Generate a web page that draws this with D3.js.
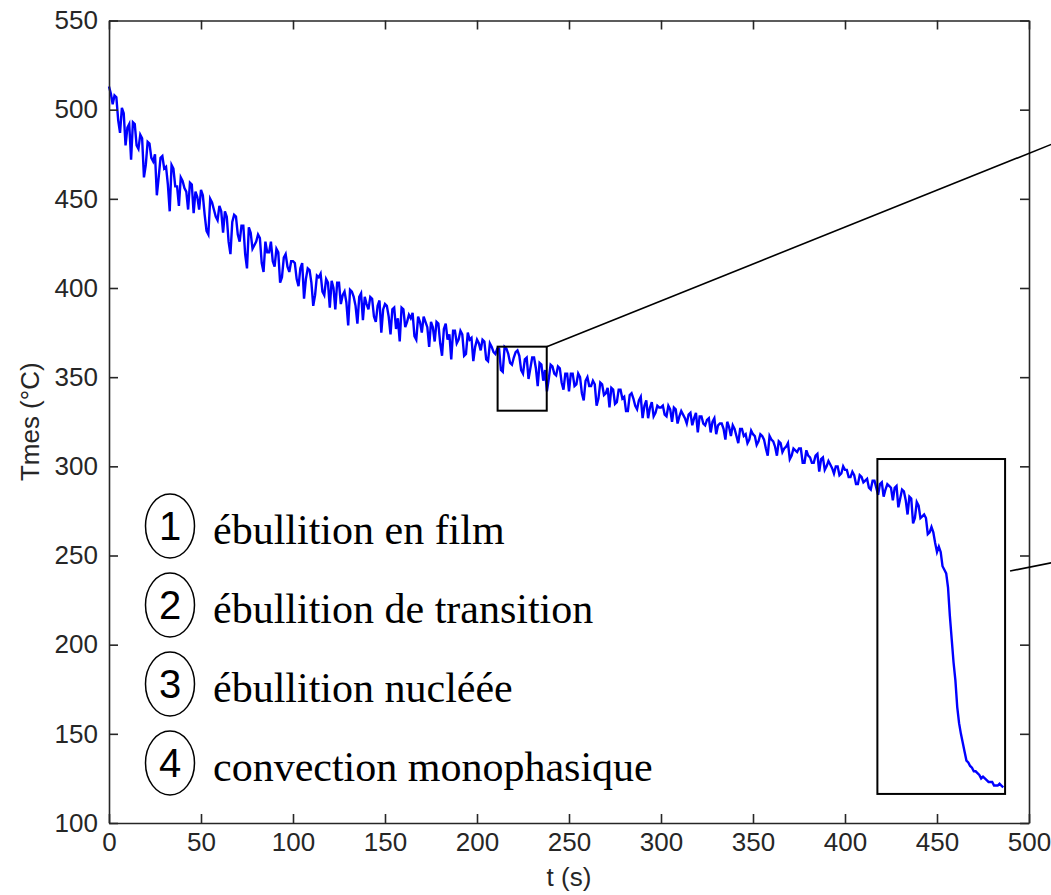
<!DOCTYPE html>
<html>
<head>
<meta charset="utf-8">
<script src="https://cdn.jsdelivr.net/npm/d3@7"></script>
<style>
  body { margin: 0; background: #fff; }
  svg { display: block; }
  .axis path, .axis line { stroke: #262626; stroke-width: 1.6; }
  .axis text { font-family: "Liberation Sans", Arial, sans-serif; font-size: 26px; fill: #262626; }
</style>
</head>
<body>
<div id="chart"></div>
<script>
// Tmes, one value per second.
// "even" arrays hold t = 0, 2, 4 ...  and "odd" arrays hold t = 1, 3, 5 ...
var tmes000 = [513, 503, 507, 487, 498, 490, 472, 492, 478, 484, 469, 481, 471, 452, 473, 467, 458, 469, 457, 446,
               460, 454, 459, 442, 451, 455, 441, 430, 448, 440, 446, 431, 440, 419, 441, 430, 435, 419, 434, 422,
               426, 428, 409, 420, 426, 412, 420, 406, 419, 409];
var tmes000odd = [509, 508, 494, 501, 480, 492, 493, 480, 486, 462, 482, 473, 475, 462, 474, 468, 443, 467, 457, 462,
                  456, 444, 458, 454, 444, 452, 432, 450, 444, 438, 443, 443, 426, 437, 440, 426, 435, 411, 431, 424,
                  430, 414, 426, 420, 415, 422, 403, 417, 412, 415];
var tmes100 = [415, 405, 411, 394, 411, 403, 396, 406, 398, 405, 389, 400, 403, 391, 398, 379, 398, 390, 395, 382,
               391, 395, 384, 390, 375, 391, 384, 388, 377, 370, 388, 381, 383, 373, 384, 375, 381, 367, 378, 381,
               369, 377, 371, 360, 376, 371, 374, 363, 371, 359];
var tmes100odd = [414, 401, 414, 405, 410, 390, 407, 408, 396, 403, 404, 388, 403, 396, 392, 399, 395, 380, 397, 395,
                  388, 394, 381, 393, 388, 390, 374, 389, 383, 389, 378, 385, 386, 371, 381, 384, 378, 381, 370, 380,
                  362, 380, 374, 376, 369, 376, 362, 375, 372, 367];
var tmes200 = [371, 365, 370, 359, 367, 363, 366, 353, 366, 358, 361, 365, 354, 360, 349, 361, 355, 358, 348, 342,
               357, 352, 356, 347, 352, 342, 352, 346, 350, 337, 350, 345, 346, 338, 346, 341, 333, 343, 336, 343,
               339, 331, 341, 334, 337, 327, 337, 333, 328, 334];
var tmes200odd = [369, 371, 360, 369, 364, 366, 354, 367, 363, 357, 364, 362, 352, 361, 355, 361, 345, 357, 354, 349,
                  356, 351, 355, 343, 352, 352, 345, 352, 341, 348, 345, 348, 334, 347, 340, 344, 344, 335, 343, 338,
                  331, 340, 338, 332, 339, 334, 327, 336, 330, 333];
var tmes300 = [333, 329, 334, 325, 332, 328, 329, 324, 330, 327, 319, 328, 323, 327, 325, 318, 324, 321, 325, 317,
               321, 313, 321, 318, 315, 318, 312, 318, 315, 306, 315, 311, 314, 308, 311, 304, 310, 308, 310, 302,
               306, 302, 306, 297, 305, 300, 301, 296, 300, 296];
var tmes300odd = [334, 328, 332, 333, 324, 331, 327, 329, 323, 330, 328, 324, 326, 319, 327, 323, 324, 315, 322, 323,
                  317, 321, 317, 313, 320, 317, 314, 317, 310, 317, 314, 306, 313, 310, 313, 306, 309, 310, 302, 309,
                  305, 302, 307, 304, 298, 303, 299, 300, 295, 300];
var tmes400 = [298, 294, 297, 290, 295, 291, 293, 287, 292, 284, 291, 287, 289, 281, 289, 282, 286, 273, 282, 271,
               278, 272, 271, 263, 263, 252, 252, 242, 232, 203, 180, 156, 145, 135, 132, 129, 128, 125, 125, 123,
               123, 121, 122, 120];
var tmes400odd = [298, 294, 295, 290, 294, 292, 288, 292, 288, 290, 283, 290, 288, 288, 277, 287, 281, 283, 268, 280,
                  271, 273, 262, 266, 257, 255, 244, 240, 216, 190, 165, 150, 140, 134, 131, 129, 127, 126, 124, 123,
                  121, 121, 121];

var xTicks = [0, 50, 100, 150, 200, 250, 300, 350, 400, 450, 500];
var yTicks = [100, 150, 200, 250, 300, 350, 400, 450, 500, 550];

var phaseNumbers = ["1", "2", "3", "4"];
var phaseLabels = ["ébullition en film", "ébullition de transition", "ébullition nucléée", "convection monophasique"];

// zoom boxes in data units: [t0, t1, Tlow, Thigh]
var zoomBoxes = [[211.2, 237.9, 331.2, 367.1], [417.6, 487, 116.3, 304.1]];
// connector lines in data units: [t0, T0, t1, T1]
var connectors = [[237.9, 367.1, 520, 483.8], [489.7, 241.3, 520, 247.5]];

var width = 1051, height = 895;
var margin = {top: 20.5, right: 22, bottom: 72, left: 109};

var even = [].concat(tmes000, tmes100, tmes200, tmes300, tmes400);
var odd = [].concat(tmes000odd, tmes100odd, tmes200odd, tmes300odd, tmes400odd);
var series = [];
even.forEach(function(v, i) {
    series.push({t: 2 * i, v: v});
    if (i < odd.length) series.push({t: 2 * i + 1, v: odd[i]});
});

var svg = d3.select("#chart").append("svg")
    .attr("width", width)
    .attr("height", height);

var x = d3.scaleLinear().domain([0, 500]).range([margin.left, width - margin.right]);
var y = d3.scaleLinear().domain([100, 550]).range([height - margin.bottom, margin.top]);

// curve first, the axes box goes over it
var line = d3.line()
    .x(function(d) { return x(d.t); })
    .y(function(d) { return y(d.v); });

svg.append("path")
    .datum(series)
    .attr("fill", "none")
    .attr("stroke", "#0000ff")
    .attr("stroke-width", 2.4)
    .attr("stroke-linejoin", "miter")
    .attr("d", line);

svg.append("g")
    .attr("class", "axis")
    .attr("transform", "translate(0," + y(100) + ")")
    .call(d3.axisBottom(x).tickValues(xTicks).tickSize(-9).tickSizeOuter(0).tickPadding(10));

svg.append("g")
    .attr("class", "axis")
    .attr("transform", "translate(0," + y(550) + ")")
    .call(d3.axisTop(x).tickValues(xTicks).tickSize(-9).tickSizeOuter(0).tickFormat(""));

svg.append("g")
    .attr("class", "axis")
    .attr("transform", "translate(" + x(0) + ",0)")
    .call(d3.axisLeft(y).tickValues(yTicks).tickSize(-9).tickSizeOuter(0).tickPadding(11));

svg.append("g")
    .attr("class", "axis")
    .attr("transform", "translate(" + x(500) + ",0)")
    .call(d3.axisRight(y).tickValues(yTicks).tickSize(-9).tickSizeOuter(0).tickFormat(""));

svg.selectAll(".axis .domain").attr("stroke-width", 2);

// axis titles
svg.append("text")
    .attr("x", (x(0) + x(500)) / 2)
    .attr("y", 886)
    .attr("text-anchor", "middle")
    .style("font-family", "'Liberation Sans', Arial, sans-serif")
    .style("font-size", "26px")
    .style("fill", "#262626")
    .text("t (s)");

svg.append("text")
    .attr("transform", "translate(39," + (y(100) + y(550)) / 2 + ") rotate(-90)")
    .attr("text-anchor", "middle")
    .style("font-family", "'Liberation Sans', Arial, sans-serif")
    .style("font-size", "26px")
    .style("fill", "#262626")
    .text("Tmes (°C)");

// zoom rectangles and their connector lines
svg.selectAll(".zoombox")
    .data(zoomBoxes)
    .enter().append("rect")
    .attr("class", "zoombox")
    .attr("x", function(d) { return x(d[0]); })
    .attr("y", function(d) { return y(d[3]); })
    .attr("width", function(d) { return x(d[1]) - x(d[0]); })
    .attr("height", function(d) { return y(d[2]) - y(d[3]); })
    .attr("fill", "none")
    .attr("stroke", "#000")
    .attr("stroke-width", 2);

svg.selectAll(".connector")
    .data(connectors)
    .enter().append("line")
    .attr("class", "connector")
    .attr("x1", function(d) { return x(d[0]); })
    .attr("y1", function(d) { return y(d[1]); })
    .attr("x2", function(d) { return x(d[2]); })
    .attr("y2", function(d) { return y(d[3]); })
    .attr("stroke", "#000")
    .attr("stroke-width", 1.6);

// phase legend
var rowY = function(i) { return 526 + i * 79; };

var legend = svg.selectAll(".phase")
    .data(phaseLabels)
    .enter().append("g")
    .attr("class", "phase")
    .attr("transform", function(d, i) { return "translate(0," + rowY(i) + ")"; });

legend.append("ellipse")
    .attr("cx", 170)
    .attr("cy", 0)
    .attr("rx", 24.5)
    .attr("ry", 32)
    .attr("fill", "none")
    .attr("stroke", "#000")
    .attr("stroke-width", 1.5);

legend.append("text")
    .attr("x", 170)
    .attr("y", 14)
    .attr("text-anchor", "middle")
    .style("font-family", "'Liberation Sans', Arial, sans-serif")
    .style("font-size", "40px")
    .text(function(d, i) { return phaseNumbers[i]; });

legend.append("text")
    .attr("x", 213)
    .attr("y", 18)
    .style("font-family", "'Liberation Serif', 'Times New Roman', serif")
    .style("font-size", "42px")
    .text(function(d) { return d; });
</script>
</body>
</html>
